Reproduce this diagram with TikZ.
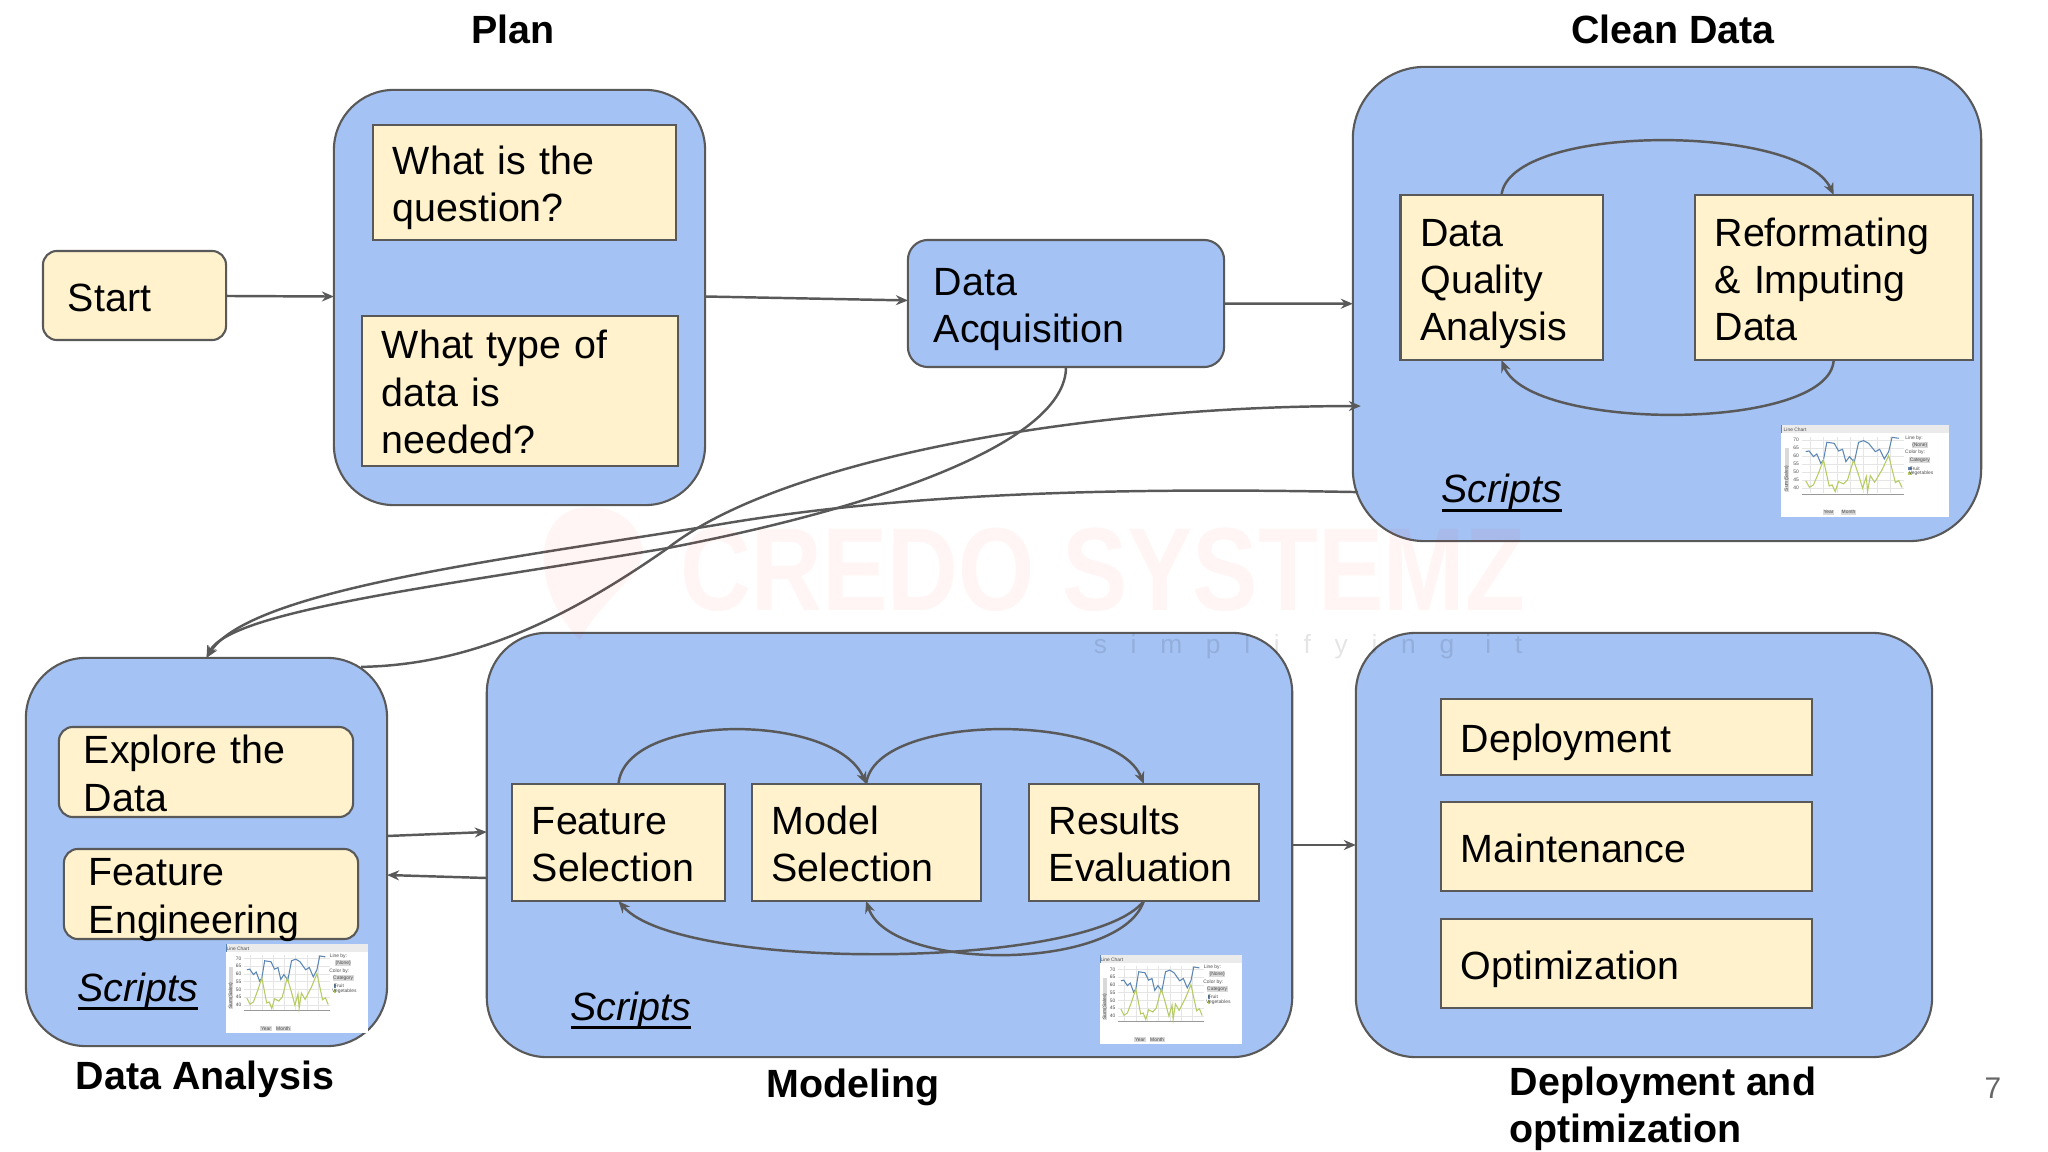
\documentclass[tikz,border=0pt]{standalone}
\usepackage{fontspec}
\setmainfont{Liberation Sans}
\usetikzlibrary{arrows.meta}
\definecolor{panelblue}{HTML}{A4C2F4}
\definecolor{leafcream}{HTML}{FFF2CC}
\definecolor{edgegray}{HTML}{595959}
\definecolor{chartblue}{HTML}{5B86B5}
\definecolor{chartgreen}{HTML}{B4CC62}
\newcommand{\slidefont}{\fontsize{11.2}{13.4}\selectfont}
\newcommand{\topstrut}{\rule{0pt}{13pt}}
\newcommand{\scriptsword}{\setbox0\hbox{Scripts}\rlap{\rule[-2.5pt]{\wd0}{0.8pt}}\box0}
\tikzstyle{panel} = [rectangle, draw=edgegray, fill=panelblue, line width=0.6pt, outer sep=0pt]
\tikzstyle{leaf} = [rectangle, draw=edgegray, fill=leafcream, line width=0.6pt, outer sep=0pt, inner xsep=0.2cm, inner ysep=0pt, align=left, font=\slidefont, execute at begin node=\topstrut, execute at end node=\strut]
\tikzstyle{softleaf} = [leaf, rounded corners=0.14cm, inner xsep=0.25cm]
\tikzstyle{tightleaf} = [softleaf, text height=0.37cm, text depth=0.53cm]
\tikzstyle{title} = [align=left, font=\slidefont\bfseries]
\tikzstyle{scripts} = [anchor=base west, inner sep=0pt, font=\slidefont\itshape]
\tikzstyle{arrow} = [draw=edgegray, line width=0.7pt, -{Stealth[length=1.2mm,width=1mm]}]
\tikzstyle{watermark} = [opacity=0.04, text=red, fill=red]
\tikzstyle{chartlabel} = [inner sep=0.2pt, text=black!70, font=\fontsize{1.4}{1.6}\selectfont]
\tikzset{
	pics/linechart/.style={code={
		\begin{scope}[shift={(-63,-45)}]
			\fill [white] (63,45) rectangle (566,322);
			\fill [black!8] (63,45) rectangle (566,70);
			\fill [chartblue] (63,45) rectangle (67,70);
			\foreach \gy in {90,114,138,162,186,210,234}
				\draw [black!10, line width=0.15pt] (125,\gy) -- (430,\gy);
			\foreach \gx in {150,190,230,270,310,350,390}
				\draw [black!10, line width=0.15pt] (\gx,80) -- (\gx,250);
			\draw [black!40, line width=0.2pt] (125,252) -- (430,252);
			\fill [black!15] (74,115) rectangle (87,247);
			\draw [chartblue, line width=0.3pt] plot coordinates {(137,125) (147,123) (160,140) (170,132) (182,160) (190,150) (200,97) (222,100) (235,123) (247,118) (257,155) (268,140) (282,157) (295,97) (310,92) (325,100) (345,125) (358,118) (372,147) (385,125) (395,82) (415,85)};
			\draw [chartgreen, line width=0.3pt] plot coordinates {(137,213) (148,232) (160,225) (175,190) (190,150) (207,228) (216,225) (225,245) (235,215) (250,222) (262,210) (280,150) (295,195) (307,235) (318,200) (322,245) (330,197) (343,217) (365,180) (385,137) (405,218) (415,212) (425,233)};
			\fill [chartblue] (444,170) rectangle (454,181);
			\fill [chartgreen] (444,185) rectangle (454,196);
			\foreach \lx/\ly/\ltxt [count=\li] in {105/59/Line Chart, 461/84/Line by:, 464/128/Color by:, 463/176/Fruit, 482/191/Vegetables, 108/90/70, 108/114/65, 108/138/60, 108/162/55, 108/186/50, 108/210/45, 108/234/40}
				\node (-label\li) [chartlabel] at (\lx,\ly) {\ltxt};
			\foreach \lx/\ly/\ltxt [count=\li] in {478/105/(None), 478/150/Category, 205/307/Year, 265/307/Month}
				\node (-button\li) [chartlabel, fill=black!15] at (\lx,\ly) {\ltxt};
			\node (-axis) [chartlabel, rotate=90] at (80,205) {Sum(Sales)};
		\end{scope}
	}}
}

\begin{document}
\begin{tikzpicture}[x=0.01cm, y=-0.01cm]
	\useasboundingbox (0,0) rectangle (2048,1152);

	\node (start) [softleaf, text width=1.33cm, minimum height=0.89cm] at (134.5,295.5) {Start};

	\node (plan) [panel, rounded corners=0.6cm, minimum width=3.71cm, minimum height=4.15cm] at (519.5,297.5) {};
	\node (question) [leaf, text width=2.63cm, minimum height=1.15cm] at (524.5,182.5) {What is the\\question?};
	\node (datatype) [leaf, text width=2.76cm, text height=0.43cm, text depth=1.07cm] at (520,391) {What type of\\data is\\needed?};
	\node (plantitle) [title] at (513,29) {Plan};

	\node (acquisition) [panel, rounded corners=0.2cm, text width=2.64cm, inner xsep=0.26cm, inner ysep=0pt, minimum height=1.27cm, align=left, font=\slidefont, execute at begin node=\topstrut, execute at end node=\strut] at (1066,303.5) {Data\\Acquisition};

	\node (clean) [panel, rounded corners=0.72cm, minimum width=6.28cm, minimum height=4.74cm] at (1667,304) {};
	\node (quality) [leaf, text width=1.62cm, minimum height=1.65cm] at (1501.5,277.5) {Data\\Quality\\Analysis};
	\node (reformat) [leaf, text width=2.38cm, minimum height=1.65cm, right of=quality, node distance=3.32cm] {Reformating\\\& Imputing\\Data};
	\node (cleanscripts) [scripts] at (1441,503) {\scriptsword};
	\node (cleantitle) [title] at (1673,29) {Clean Data};
	\begin{scope}[shift={(1781,425)}, x=0.00334cm, y=-0.00332cm]
		\pic (cleanchart) {linechart};
	\end{scope}

	\node (analysis) [panel, rounded corners=0.6cm, minimum width=3.61cm, minimum height=3.88cm] at (206.5,852) {};
	\node (explore) [tightleaf, text width=2.44cm] at (206,772) {Explore the\\Data};
	\node (engineering) [tightleaf, text width=2.44cm] at (211,894) {Feature\\Engineering};
	\node (analysisscripts) [scripts] at (77,1001) {\scriptsword};
	\node (analysistitle) [title] at (205,1079) {Data Analysis};
	\begin{scope}[shift={(226,944)}, x=0.00282cm, y=-0.00322cm]
		\pic (analysischart) {linechart};
	\end{scope}

	\node (modeling) [panel, rounded corners=0.6cm, minimum width=8.05cm, minimum height=4.24cm] at (889.5,845) {};
	\node (feature) [leaf, text width=1.73cm, minimum height=1.17cm] at (618.5,842.5) {Feature\\Selection};
	\node (model) [leaf, text width=1.89cm, minimum height=1.17cm, right of=feature, node distance=2.475cm] {Model\\Selection};
	\node (results) [leaf, text width=1.9cm, minimum height=1.17cm, right of=model, node distance=2.775cm] {Results\\Evaluation};
	\node (modelingscripts) [scripts] at (570,1020) {\scriptsword};
	\node (modelingtitle) [title] at (853,1087) {Modeling};
	\begin{scope}[shift={(1100,955)}, x=0.00282cm, y=-0.00322cm]
		\pic (modelingchart) {linechart};
	\end{scope}

	\node (deploybox) [panel, rounded corners=0.6cm, minimum width=5.76cm, minimum height=4.24cm] at (1644,845) {};
	\node (deployment) [leaf, text width=3.31cm, minimum height=0.76cm] at (1626.5,737) {Deployment};
	\node (maintenance) [leaf, text width=3.31cm, minimum height=0.89cm, below of=deployment, node distance=1.095cm] {Maintenance};
	\node (optimization) [leaf, text width=3.31cm, minimum height=0.89cm, below of=maintenance, node distance=1.17cm] {Optimization};
	\node (deploytitle) [title, anchor=west, inner sep=0pt] at (1509,1109) {Deployment and\\optimization};

	\node (pagenumber) [text=black!60, font=\fontsize{8.5}{10}\selectfont] at (1993,1088) {7};

	\draw [arrow] (start) -- (plan);
	\draw [arrow] ([yshift=0.01cm]plan.east) -- (acquisition);
	\draw [arrow] (acquisition) -- (clean);
	\draw [arrow] (modeling) -- (deploybox);
	\draw [arrow] ([yshift=0.16cm]analysis.east) -- ([yshift=0.13cm]modeling.west);
	\draw [arrow] ([yshift=-0.33cm]modeling.west) -- ([yshift=-0.23cm]analysis.east);

	% loops inside the panels
	\draw [arrow] (quality.north) .. controls (1510,123) and (1800,123) .. (reformat.north);
	\draw [arrow] (reformat.south) .. controls (1830,432) and (1530,432) .. (quality.south);
	\draw [arrow] (feature.north) .. controls (625,712) and (835,712) .. (model.north);
	\draw [arrow] (model.north) .. controls (875,712) and (1115,712) .. (results.north);
	\draw [arrow] (results.south) .. controls (1090,970) and (680,972) .. (feature.south);
	\draw [arrow] (results.south) .. controls (1120,972) and (890,972) .. (model.south);

	% long curves between the panels
	\draw [arrow] (acquisition.south) .. controls (1066,440) and (890,505) .. (668,548) .. controls (450,585) and (230,610) .. (analysis.north);
	\draw [arrow] ([xshift=0.05cm,yshift=-1.88cm]clean.west) .. controls (1150,488) and (920,490) .. (716,525) .. controls (500,560) and (250,590) .. (analysis.north);
	\draw [arrow] ([xshift=-0.26cm,yshift=-0.09cm]analysis.north east) .. controls (470,665) and (565,620) .. (668,548) .. controls (780,460) and (1080,406) .. ([xshift=0.08cm,yshift=-1.02cm]clean.west);

	% faint mark over the slide
	\fill [watermark] (590,507) .. controls (530,507) and (530,590) .. (580,640) .. controls (600,600) and (650,570) .. (642,545) .. controls (636,520) and (615,507) .. (590,507);
	\node (markname) [watermark, fill=none, xscale=0.83, font=\fontsize{33.6}{36}\selectfont\bfseries] at (1103,570) {CREDO SYSTEMZ};
	\node (markline) [opacity=0.1, font=\fontsize{7.5}{9}\selectfont\addfontfeature{LetterSpace=90}] at (1308,647) {simplifying it};
\end{tikzpicture}
\end{document}
